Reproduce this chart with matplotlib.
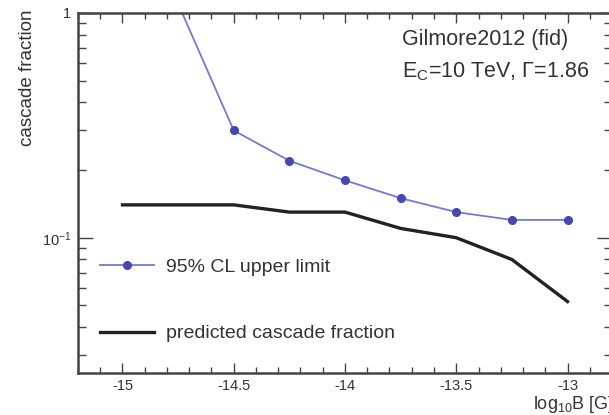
import numpy as np
import matplotlib.pyplot as plt
from matplotlib.ticker import FixedLocator, FixedFormatter, MultipleLocator, LogLocator, NullFormatter

plt.rcParams['font.family'] = ['Liberation Sans', 'DejaVu Sans']
plt.rcParams['mathtext.fontset'] = 'custom'
plt.rcParams['mathtext.rm'] = 'Liberation Sans'
plt.rcParams['mathtext.it'] = 'Liberation Sans:italic'

# log10 B [G]
logB_limit = [-14.75, -14.5, -14.25, -14.0, -13.75, -13.5, -13.25, -13.0]
upper_limit = [1.1, 0.30, 0.22, 0.18, 0.15, 0.13, 0.12, 0.12]

logB_pred = [-15.0, -14.75, -14.5, -14.25, -14.0, -13.75, -13.5, -13.25, -13.0]
predicted = [0.14, 0.14, 0.14, 0.13, 0.13, 0.11, 0.10, 0.080, 0.052]

W, H = 609, 415
fig = plt.figure(figsize=(W / 100, H / 100), dpi=100)
ax = fig.add_axes([78 / W, 1 - 373 / H, (612 - 78) / W, (373 - 13) / H])

ax.plot(logB_limit, upper_limit, color='#7878d4', lw=1.3, marker='o', ms=5.5,
        mfc='#4646b4', mec='#4646b4', label='95% CL upper limit')
ax.plot(logB_pred, predicted, color='#222222', lw=2.4, label='predicted cascade fraction')

ax.set_yscale('log')
ax.set_xlim(-15.2, -12.8)
ax.set_ylim(0.025, 1.0)

ax.xaxis.set_major_locator(MultipleLocator(0.5))
ax.xaxis.set_minor_locator(MultipleLocator(0.1))
ax.xaxis.set_major_formatter(plt.FuncFormatter(lambda v, p: f"{v:g}"))
ax.yaxis.set_major_locator(FixedLocator([0.1, 1.0]))
ax.yaxis.set_major_formatter(FixedFormatter([r'$10^{-1}$', '1']))
ax.yaxis.set_minor_locator(LogLocator(base=10, subs=np.arange(2, 10)))
ax.yaxis.set_minor_formatter(NullFormatter())

ax.tick_params(axis='both', which='both', direction='in', top=True, right=True,
               colors='#444444', labelcolor='#333333')
ax.tick_params(axis='x', which='major', length=7, width=1, pad=4, labelsize=10.5)
ax.tick_params(axis='x', which='minor', length=4, width=1)
ax.tick_params(axis='y', which='major', length=11, width=1, pad=5, labelsize=10.5)
ax.tick_params(axis='y', which='minor', length=6, width=1)
for s in ax.spines.values():
    s.set_linewidth(1.8)
    s.set_color('#444444')

ax.text(402 / W, 1 - 40 / H, 'Gilmore2012 (fid)', transform=fig.transFigure,
        fontsize=15.5, color='#333333', va='center', ha='left')
ax.text(402 / W, 1 - 72 / H, r'E$_{\mathrm{C}}$=10 TeV, Γ=1.86', transform=fig.transFigure,
        fontsize=15.5, color='#333333', va='center', ha='left')

fig.text(28 / W, 1 - 9 / H, 'cascade fraction', rotation=90, ha='center', va='top',
         fontsize=13.5, color='#333333')
fig.text(533 / W, 1 - 404 / H, r'log$_{10}$B [G]', ha='left', va='center',
         fontsize=13, color='#333333')

leg = ax.legend(loc='center left', bbox_to_anchor=((100 - 78) / 534, (373 - 300.5) / 360),
                frameon=False, fontsize=14, borderpad=0, borderaxespad=0,
                handlelength=2.8, handletextpad=0.6, labelspacing=2.5)
for t in leg.get_texts():
    t.set_color('#333333')

fig.savefig('out.png', dpi=100)
